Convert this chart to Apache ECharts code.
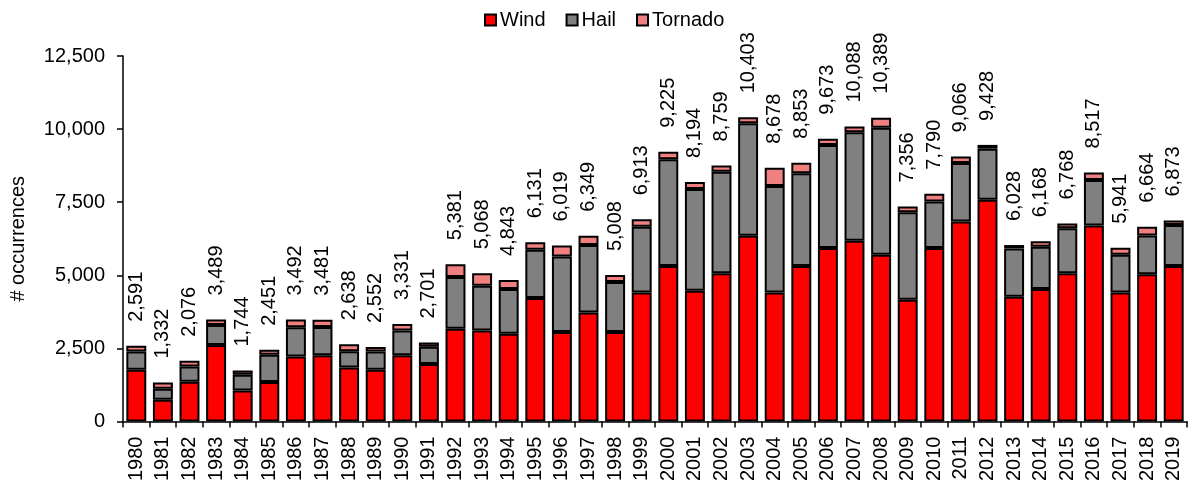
<!DOCTYPE html>
<html>
<head>
<meta charset="utf-8">
<script src="https://cdn.jsdelivr.net/npm/echarts@6/dist/echarts.min.js"></script>
<style>
html,body{margin:0;padding:0;background:#fff;}
#chart{width:1195px;height:484px;}
</style>
</head>
<body>
<div id="chart"></div>
<script>
const years = ['1980','1981','1982','1983','1984','1985','1986','1987','1988','1989','1990','1991','1992','1993','1994','1995','1996','1997','1998','1999','2000','2001','2002','2003','2004','2005','2006','2007','2008','2009','2010','2011','2012','2013','2014','2015','2016','2017','2018','2019'];
const wind = [1770,740,1360,2620,1060,1350,2220,2270,1850,1770,2270,1970,3170,3110,3000,4220,3060,3730,3060,4410,5320,4470,5070,6350,4410,5320,5930,6180,5700,4160,5930,6840,7580,4270,4530,5070,6700,4410,5040,5320];
const hail = [620,380,520,680,540,930,1000,960,550,620,840,590,1770,1530,1530,1650,2580,2310,1710,2250,3650,3480,3470,3850,3640,3170,3530,3710,4350,3000,1590,2000,1750,1650,1450,1540,1560,1290,1320,1400];
const tornado = [200,210,196,189,144,171,272,251,238,162,221,141,441,428,313,261,379,309,238,253,255,244,219,203,628,363,213,198,339,196,270,226,130,115,188,158,257,241,304,153];
const totals = [2591,1332,2076,3489,1744,2451,3492,3481,2638,2552,3331,2701,5381,5068,4843,6131,6019,6349,5008,6913,9225,8194,8759,10403,8678,8853,9673,10088,10389,7356,7790,9066,9428,6028,6168,6768,8517,5941,6664,6873];

const FONT = '"Liberation Sans", Arial, sans-serif';
const fmt = v => v.toLocaleString('en-US');
const border = {borderColor:'#000', borderWidth:2};

const chart = echarts.init(document.getElementById('chart'), null, {renderer:'canvas'});
chart.setOption({
  animation:false,
  textStyle:{fontFamily:FONT, color:'#000'},
  legend:{
    top:5, left:479, itemWidth:11, itemHeight:11, itemGap:20,
    icon:'rect',
    textStyle:{fontSize:20, fontFamily:FONT, color:'#000', padding:[0,0,0,-1]},
    data:['Wind','Hail','Tornado']
  },
  grid:{left:118, right:8, top:56, bottom:62},
  xAxis:{
    type:'category', data:years,
    axisLine:{lineStyle:{color:'#000', width:1.5}},
    axisTick:{show:true, alignWithLabel:false, length:6, lineStyle:{color:'#000', width:1.5}},
    axisLabel:{rotate:90, fontSize:20, color:'#000', fontFamily:FONT, margin:15, interval:0}
  },
  yAxis:{
    type:'value', min:0, max:12500, interval:2500,
    name:'# occurrences', nameLocation:'middle', nameGap:95, nameRotate:90,
    nameTextStyle:{fontSize:20, color:'#000', fontFamily:FONT},
    splitLine:{show:false},
    axisLine:{show:true, lineStyle:{color:'#000', width:1.5}},
    axisTick:{show:true, length:6, lineStyle:{color:'#000', width:1.5}},
    axisLabel:{fontSize:20, color:'#000', fontFamily:FONT, margin:18, formatter:v=>fmt(v)}
  },
  series:[
    {name:'Wind', type:'bar', stack:'all', data:wind, barCategoryGap:'25%',
     itemStyle:Object.assign({color:'#FF0000'}, border)},
    {name:'Hail', type:'bar', stack:'all', data:hail,
     itemStyle:Object.assign({color:'#808080'}, border)},
    {name:'Tornado', type:'bar', stack:'all', data:tornado,
     itemStyle:Object.assign({color:'#F08080'}, border),
     label:{show:true, position:'top', rotate:90, align:'left', verticalAlign:'middle', distance:24,
       fontSize:20, color:'#000', fontFamily:FONT,
       formatter:p=>fmt(totals[p.dataIndex])}}
  ]
});
</script>
</body>
</html>
